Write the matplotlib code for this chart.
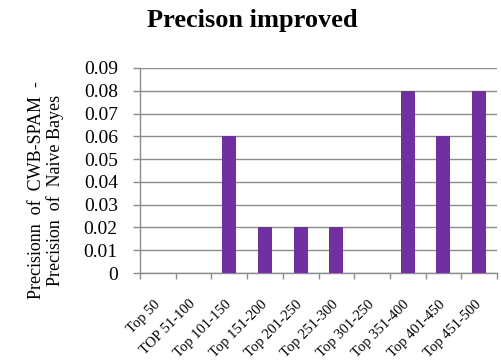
import matplotlib.pyplot as plt
import numpy as np

# data
labels = ["Top 50", "TOP 51-100", "Top 101-150", "Top 151-200", "Top 201-250",
          "Top 251-300", "Top 301-250", "Top 351-400", "Top 401-450", "Top 451-500"]
values = [0, 0, 0.06, 0.02, 0.02, 0.02, 0, 0.08, 0.06, 0.08]
yticks = [0, 0.01, 0.02, 0.03, 0.04, 0.05, 0.06, 0.07, 0.08, 0.09]

plt.rcParams['font.family'] = ['Liberation Serif', 'DejaVu Serif']

fig = plt.figure(figsize=(5.01, 3.62), dpi=100)
ax = fig.add_axes([140 / 501, 1 - 273 / 362, 357 / 501, 205 / 362])

x = np.arange(len(labels))
ax.bar(x, values, width=0.39, color="#7030A0", zorder=3)

ax.set_xlim(-0.5, len(labels) - 0.5)
ax.set_ylim(0, 0.09)
ax.set_yticks(yticks)
ax.set_yticklabels(["0"] + [f"{v:.2f}" for v in yticks[1:]], fontsize=14)
ax.yaxis.grid(True, color="#8c8c8c", linewidth=1.0, zorder=0)

# category labels at centres, tick marks at the boundaries
ax.set_xticks(x)
ax.set_xticklabels(labels, rotation=45, ha="right", va="center",
                   rotation_mode="anchor", fontsize=10.5)
ax.set_xticks(np.arange(len(labels) + 1) - 0.5, minor=True)
ax.tick_params(axis="x", which="major", length=0, pad=21)
ax.tick_params(axis="x", which="minor", length=4, color="#8c8c8c", width=1)
ax.tick_params(axis="y", length=5, color="#8c8c8c", width=1, pad=11)

for side in ["top", "right"]:
    ax.spines[side].set_visible(False)
for side in ["left", "bottom"]:
    ax.spines[side].set_color("#8c8c8c")
    ax.spines[side].set_linewidth(1.0)

fig.text(252 / 501, 1 - 20 / 362, "Precison improved", fontsize=19, fontweight="bold",
         ha="center", va="center")
fig.text(46 / 501, 1 - 190 / 362, "Precisionn  of  CWB-SPAM  -\nPrecision  of  Naive Bayes",
         rotation=90, fontsize=13, ha="center", va="center", linespacing=1.05)

fig.savefig("out.png", dpi=100)
